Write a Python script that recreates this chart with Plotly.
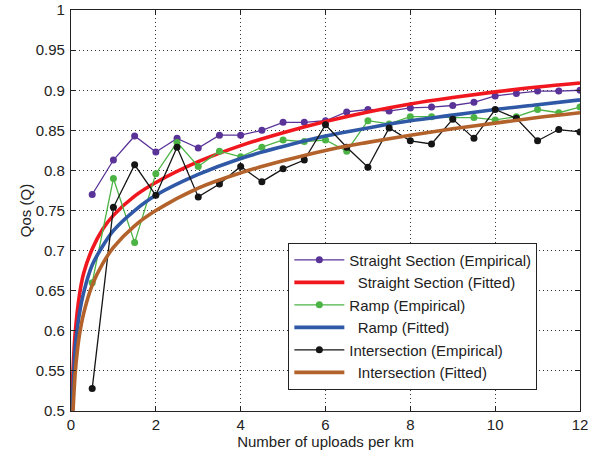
import plotly.graph_objects as go

# Empirical data (x = uploads per km)
x_emp = [0.5, 1, 1.5, 2, 2.5, 3, 3.5, 4, 4.5, 5, 5.5, 6, 6.5, 7, 7.5, 8, 8.5, 9, 9.5, 10, 10.5, 11, 11.5, 12]
straight_emp = [0.770, 0.813, 0.843, 0.823, 0.840, 0.828, 0.844, 0.844, 0.850, 0.860, 0.860, 0.862, 0.873, 0.876, 0.874, 0.878, 0.879, 0.881, 0.885, 0.893, 0.896, 0.899, 0.899, 0.900]
ramp_emp = [0.660, 0.790, 0.710, 0.796, 0.835, 0.805, 0.824, 0.817, 0.829, 0.838, 0.836, 0.838, 0.824, 0.862, 0.858, 0.867, 0.867, 0.866, 0.866, 0.863, 0.867, 0.876, 0.872, 0.879]
inter_emp = [0.528, 0.754, 0.807, 0.769, 0.829, 0.767, 0.783, 0.805, 0.786, 0.802, 0.813, 0.857, 0.829, 0.804, 0.853, 0.837, 0.833, 0.864, 0.840, 0.876, 0.865, 0.837, 0.851, 0.848]

# Fitted curves
x_fit_straight = [0.012, 0.05, 0.1, 0.2, 0.3, 0.5, 0.75, 1, 1.5, 2, 3, 4, 5, 6, 7, 8, 9, 10, 11, 12]
straight_fit = [0.500, 0.553, 0.598, 0.645, 0.672, 0.702, 0.727, 0.744, 0.768, 0.785, 0.811, 0.831, 0.847, 0.861, 0.873, 0.883, 0.891, 0.898, 0.904, 0.909]
x_fit_ramp = [0.02, 0.05, 0.1, 0.15, 0.2, 0.3, 0.5, 0.75, 1, 1.5, 2, 3, 4, 5, 6, 7, 8, 9, 10, 11, 12]
ramp_fit = [0.500, 0.530, 0.580, 0.603, 0.622, 0.648, 0.682, 0.706, 0.725, 0.750, 0.769, 0.795, 0.815, 0.830, 0.843, 0.853, 0.862, 0.869, 0.876, 0.882, 0.888]
x_fit_inter = [0.048, 0.1, 0.15, 0.2, 0.3, 0.5, 0.75, 1, 1.5, 2, 3, 4, 5, 6, 7, 8, 9, 10, 11, 12]
inter_fit = [0.500, 0.548, 0.575, 0.595, 0.622, 0.657, 0.684, 0.704, 0.731, 0.750, 0.778, 0.797, 0.812, 0.825, 0.835, 0.844, 0.852, 0.859, 0.866, 0.872]

x_ticks = [0, 2, 4, 6, 8, 10, 12]
y_ticks = [0.5, 0.55, 0.6, 0.65, 0.7, 0.75, 0.8, 0.85, 0.9, 0.95, 1]

PURPLE = "#5a3399"
RED = "#f0171f"
GREEN = "#4cb444"
BLUE = "#2f58a6"
BLACK = "#151515"
BROWN = "#b2622a"

FONT = "Liberation Sans, Arial, sans-serif"
FS = 15

fig = go.Figure()

def emp(x, y, name, color):
    fig.add_trace(go.Scatter(x=x, y=y, name=name, mode="lines+markers",
                             line=dict(color=color, width=1.3),
                             marker=dict(color=color, size=7, symbol="circle")))

def fit(x, y, name, color):
    fig.add_trace(go.Scatter(x=x, y=y, name=name, mode="lines",
                             line=dict(color=color, width=3.6, shape="spline", smoothing=1.0)))

sp = "\u00a0\u00a0"
emp(x_emp, straight_emp, "Straight Section (Empirical)", PURPLE)
fit(x_fit_straight, straight_fit, sp + "Straight Section (Fitted)", RED)
emp(x_emp, ramp_emp, "Ramp (Empirical)", GREEN)
fit(x_fit_ramp, ramp_fit, sp + "Ramp (Fitted)", BLUE)
emp(x_emp, inter_emp, "Intersection (Empirical)", BLACK)
fit(x_fit_inter, inter_fit, sp + "Intersection (Fitted)", BROWN)

axis_common = dict(
    showline=True, linecolor="#222", linewidth=1.2, mirror="allticks",
    ticks="inside", ticklen=5, tickcolor="#222",
    showgrid=True, gridcolor="#333", gridwidth=1, griddash="1px,3px",
    zeroline=False, ticklabeloverflow="allow", automargin=False,
    tickfont=dict(family=FONT, size=FS, color="#222"),
)

fig.update_xaxes(range=[0, 12], tickvals=x_ticks, ticktext=[str(v) for v in x_ticks],
                 title=dict(text="Number of uploads per km", standoff=2,
                            font=dict(family=FONT, size=FS, color="#222")),
                 **axis_common)
fig.update_yaxes(range=[0.5, 1.0001], tickvals=y_ticks, ticktext=[("%g" % v) for v in y_ticks],
                 ticklabelstandoff=2,
                 title=dict(text="Qos (Q)", standoff=0,
                            font=dict(family=FONT, size=FS, color="#222")),
                 **axis_common)

fig.update_layout(
    width=598, height=457,
    margin=dict(l=71, r=18, t=10, b=46),
    paper_bgcolor="white", plot_bgcolor="white",
    showlegend=True,
    legend=dict(x=0.427, y=0.42, xanchor="left", yanchor="top",
                bgcolor="white", bordercolor="#222", borderwidth=1,
                font=dict(family=FONT, size=FS, color="#222"),
                itemwidth=50, tracegroupgap=0),
)

fig.write_html("out.html", config={"displayModeBar": False},
               post_script="document.body.style.margin='0';")
